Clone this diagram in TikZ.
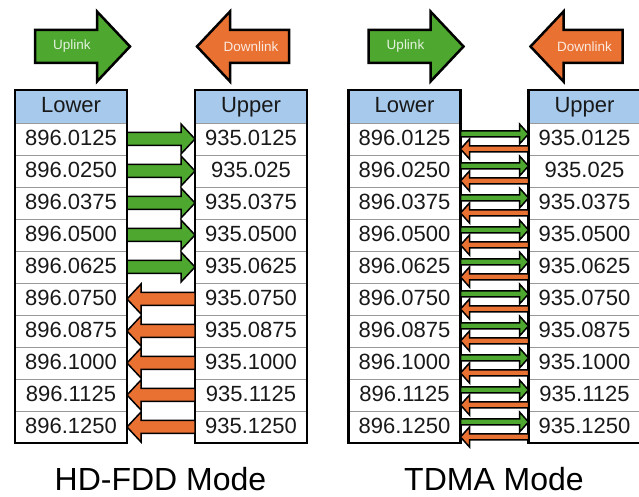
\documentclass[tikz,border=0pt]{standalone}
\usepackage{fontspec}
\setmainfont{Liberation Sans}
\usepackage{tikz}
\usetikzlibrary{positioning,calc}
\definecolor{upgreen}{HTML}{4EA72E}
\definecolor{downorange}{HTML}{E97132}
\definecolor{headblue}{HTML}{A6C9EC}
\tikzset{cell/.style={rectangle,draw=black!40,line width=0.8pt,minimum width=112pt,minimum height=32pt,inner sep=0pt,outer sep=0pt,text height=12.8pt,text depth=0pt,text=black!90,font=\fontsize{22}{24}\selectfont},
		headcell/.style={cell,fill=headblue,minimum height=33pt},
		frame/.style={draw=black,line width=2.5pt},
		bigarrow/.style={draw=black,line width=2.5pt},
		smallarrow/.style={draw=black,line width=1.5pt}}

% block arrow: tail, tip, half body, half head, head length, fill, style
\newcommand{\blockarrow}[7]{%
	\draw[#7,fill=#6] let \p1=(#1), \p2=(#2), \n1={sign(\x2-\x1)} in
		(\x1,{\y2+#3}) -- ({\x2-(\n1)*#5},{\y2+#3}) -- ({\x2-(\n1)*#5},{\y2+#4}) -- (\x2,\y2)
		-- ({\x2-(\n1)*#5},{\y2-#4}) -- ({\x2-(\n1)*#5},{\y2-#3}) -- (\x1,{\y2-#3}) -- cycle;}

\begin{document}
\begin{tikzpicture}[x=1pt,y=1pt,node distance=0pt,
		armlabel/.style={inner sep=0pt,font=\fontsize{13.5}{15}\selectfont},
		modetitle/.style={anchor=base,inner sep=0pt,text depth=0pt,font=\fontsize{32}{36}\selectfont}]
	\useasboundingbox (0,0) rectangle (639,497);
	\foreach \mode/\dx/\modename in {fdd/0/HD-FDD Mode,tdma/333.5/TDMA Mode}{
		\node[headcell] (\mode-lower-0) at (71+\dx,390.5) {Lower};
		\node[headcell] (\mode-upper-0) at (251+\dx,390.5) {Upper};
		\foreach \lo/\up [count=\i] in {896.0125/935.0125,896.0250/935.025,896.0375/935.0375,896.0500/935.0500,896.0625/935.0625,896.0750/935.0750,896.0875/935.0875,896.1000/935.1000,896.1125/935.1125,896.1250/935.1250}{
			\pgfmathtruncatemacro\prev{\i-1}
			\node[cell,below=of \mode-lower-\prev] (\mode-lower-\i) {\lo};
			\node[cell,below=of \mode-upper-\prev] (\mode-upper-\i) {\up};
		}
		\draw[frame] (\mode-lower-0.north west) rectangle (\mode-lower-10.south east);
		\draw[frame] (\mode-upper-0.north west) rectangle (\mode-upper-10.south east);
		
		\coordinate (\mode-up-tail) at (35+\dx,450.5);
		\coordinate (\mode-up-tip) at (130+\dx,450.5);
		\blockarrow{\mode-up-tail}{\mode-up-tip}{16.5pt}{35pt}{33pt}{upgreen}{bigarrow}
		\node[armlabel,text=white!85!upgreen] (\mode-up-text) at ($(\mode-up-tail)+(37,0)$) {Uplink};
		\coordinate (\mode-down-tail) at (289+\dx,450.5);
		\coordinate (\mode-down-tip) at (197+\dx,450.5);
		\blockarrow{\mode-down-tail}{\mode-down-tip}{16.5pt}{35pt}{33pt}{downorange}{bigarrow}
		\node[armlabel,text=white!85!downorange] (\mode-down-text) at ($(\mode-down-tail)+(-38,0)$) {Downlink};
		
		\node[modetitle] (\mode-title) at (160.5+\dx,6) {\modename};
	}
	
	% HD-FDD: one direction per channel
	\foreach \i in {1,...,5}
		\blockarrow{fdd-lower-\i.east}{fdd-upper-\i.west}{6.5pt}{15pt}{14pt}{upgreen}{smallarrow};
	\foreach \i in {6,...,10}
		\blockarrow{fdd-upper-\i.west}{fdd-lower-\i.east}{6.5pt}{15pt}{14pt}{downorange}{smallarrow};
	
	% TDMA: both directions on every channel
	\foreach \i in {1,...,10}{
		\blockarrow{$(tdma-lower-\i.east)+(0,5)$}{$(tdma-upper-\i.west)+(0,5)$}{3pt}{10pt}{9pt}{upgreen}{smallarrow}
		\blockarrow{$(tdma-upper-\i.west)+(0,-10)$}{$(tdma-lower-\i.east)+(0,-10)$}{3pt}{10pt}{9pt}{downorange}{smallarrow}
	}
\end{tikzpicture}
\end{document}
